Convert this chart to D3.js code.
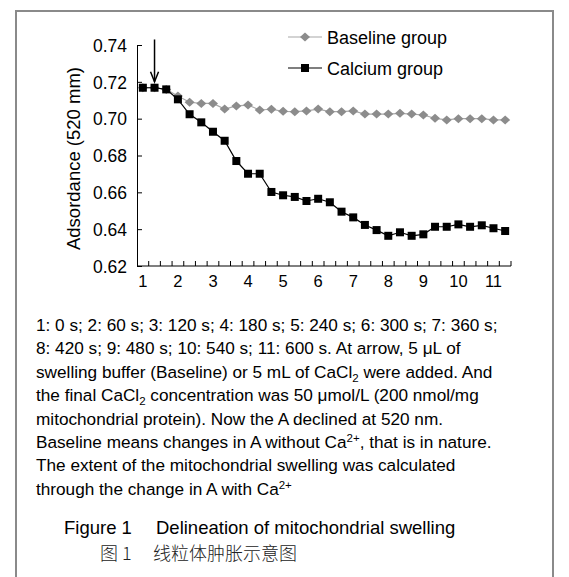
<!DOCTYPE html>
<html>
<head>
<meta charset="utf-8">
<script src="https://cdn.jsdelivr.net/npm/d3@7"></script>
<style>
  body { margin: 0; background: #fff; }
  svg text { font-family: "Liberation Sans", Arial, sans-serif; fill: #000; }
</style>
</head>
<body>
<div id="chart"></div>
<script>
// categories (one reading every ~20 s), labelled every third
var categories = [1, 2, 3, 4, 5, 6, 7, 8, 9, 10, 11, 12, 13, 14, 15, 16,
                  17, 18, 19, 20, 21, 22, 23, 24, 25, 26, 27, 28, 29, 30, 31, 32];
var tickLabels = ['1', '2', '3', '4', '5', '6', '7', '8', '9', '10', '11'];
var yTicks = [0.62, 0.64, 0.66, 0.68, 0.70, 0.72, 0.74];

var baseline = [0.7168, 0.7168, 0.7159, 0.7123, 0.7089, 0.7083, 0.7083, 0.7052,
                0.7069, 0.7074, 0.7047, 0.7051, 0.7040, 0.7038, 0.7042, 0.7052,
                0.7038, 0.7038, 0.7042, 0.7025, 0.7025, 0.7025, 0.7029, 0.7025,
                0.7020, 0.7002, 0.6993, 0.7000, 0.7000, 0.7000, 0.6993, 0.6993];
var calcium = [0.7168, 0.7168, 0.7159, 0.7105, 0.7024, 0.6980, 0.6929, 0.6880,
               0.6770, 0.6701, 0.6701, 0.6602, 0.6584, 0.6575, 0.6553, 0.6565,
               0.6546, 0.6495, 0.6464, 0.6423, 0.6395, 0.6364, 0.6383, 0.6364,
               0.6372, 0.6413, 0.6413, 0.6426, 0.6413, 0.6421, 0.6405, 0.6390];
var seriesNames = ['Baseline group', 'Calcium group'];
var arrowAt = 2; // category where the buffer was added

// caption lines: [text, 'sub' | 'sup' | undefined]
var caption = [
    [['1: 0 s; 2: 60 s; 3: 120 s; 4: 180 s; 5: 240 s; 6: 300 s; 7: 360 s;']],
    [['8: 420 s; 9: 480 s; 10: 540 s; 11: 600 s. At arrow, 5 \u03bcL of']],
    [['swelling buffer (Baseline) or 5 mL of CaCl'], ['2', 'sub'], [' were added. And']],
    [['the final CaCl'], ['2', 'sub'], [' concentration was 50 \u03bcmol/L (200 nmol/mg']],
    [['mitochondrial protein). Now the A declined at 520 nm.']],
    [['Baseline means changes in A without Ca'], ['2+', 'sup'], [', that is in nature.']],
    [['The extent of the mitochondrial swelling was calculated']],
    [['through the change in A with Ca'], ['2+', 'sup']]
];
var titleEn = ['Figure 1', 'Delineation of mitochondrial swelling'];
var titleZh = ['图 1', '线粒体肿胀示意图'];

var width = 569, height = 577;

var svg = d3.select('#chart').append('svg')
    .attr('width', width)
    .attr('height', height)
    .style('background', '#fff');

// outer frame
svg.append('rect')
    .attr('x', 16).attr('y', 11)
    .attr('width', 537).attr('height', 600)
    .attr('fill', 'none')
    .attr('stroke', '#8a8a8a')
    .attr('stroke-width', 2);

var x = d3.scaleBand().domain(categories).range([137, 511]);
var y = d3.scaleLinear().domain([0.62, 0.74]).range([266, 45]);
var cx = function(c) { return x(c) + x.bandwidth() / 2; };

// y axis
var yAxis = svg.append('g')
    .attr('transform', 'translate(137,0)')
    .call(d3.axisLeft(y).tickValues(yTicks).tickSize(-5).tickSizeOuter(0)
        .tickPadding(10).tickFormat(d3.format('.2f')));
yAxis.selectAll('text').style('font-size', '17.5px').attr('dy', '0.36em');
yAxis.select('.domain').attr('stroke', '#000');

// x axis: ticks between categories, labels every third
var xg = svg.append('g');
xg.append('line')
    .attr('x1', 137).attr('x2', 511)
    .attr('y1', y(0.62)).attr('y2', y(0.62))
    .attr('stroke', '#000');
xg.selectAll('.tk').data(categories.slice(1).concat(['end']))
    .enter().append('line')
    .attr('x1', function(c) { return c === 'end' ? x.range()[1] : x(c); })
    .attr('x2', function(c) { return c === 'end' ? x.range()[1] : x(c); })
    .attr('y1', y(0.62)).attr('y2', y(0.62) - 5)
    .attr('stroke', '#000');
xg.selectAll('.lb').data(tickLabels)
    .enter().append('text')
    .attr('x', function(d, i) { return cx(categories[i * 3]); })
    .attr('y', y(0.62) + 21)
    .attr('text-anchor', 'middle')
    .style('font-size', '16.5px')
    .text(function(d) { return d; });

// y title
svg.append('text')
    .attr('transform', 'translate(80,' + ((y(0.62) + y(0.74)) / 2 + 3) + ') rotate(-90)')
    .attr('text-anchor', 'middle')
    .style('font-size', '18.5px')
    .text('Adsordance (520 mm)');

var line = d3.line()
    .x(function(d, i) { return cx(categories[i]); })
    .y(function(d) { return y(d); });

// baseline group
svg.append('path').datum(baseline)
    .attr('d', line).attr('fill', 'none')
    .attr('stroke', '#a8a8a8').attr('stroke-width', 1.2);
svg.selectAll('.dia').data(baseline)
    .enter().append('path')
    .attr('transform', function(d, i) { return 'translate(' + cx(categories[i]) + ',' + y(d) + ')'; })
    .attr('d', 'M0,-4.5L5,0L0,4.5L-5,0Z')
    .attr('fill', '#8c8c8c');

// calcium group
svg.append('path').datum(calcium)
    .attr('d', line).attr('fill', 'none')
    .attr('stroke', '#000').attr('stroke-width', 1.2);
svg.selectAll('.sq').data(calcium)
    .enter().append('rect')
    .attr('x', function(d, i) { return cx(categories[i]) - 4; })
    .attr('y', function(d) { return y(d) - 4; })
    .attr('width', 8).attr('height', 8)
    .attr('fill', '#000');

// arrow
var ax = cx(arrowAt), tip = y(calcium[1]) - 6;
svg.append('line')
    .attr('x1', ax).attr('x2', ax)
    .attr('y1', y(0.743)).attr('y2', tip)
    .attr('stroke', '#000').attr('stroke-width', 1.5);
svg.append('path')
    .attr('d', 'M' + (ax - 4) + ',' + (tip - 10) + 'L' + ax + ',' + tip + 'L' + (ax + 4) + ',' + (tip - 10))
    .attr('fill', 'none').attr('stroke', '#000').attr('stroke-width', 1.5);

// legend
var legend = svg.append('g');
[0, 1].forEach(function(i) {
    var ly = 37 + i * 31;
    legend.append('line')
        .attr('x1', 288).attr('x2', 322).attr('y1', ly).attr('y2', ly)
        .attr('stroke', i === 0 ? '#a8a8a8' : '#000').attr('stroke-width', 1.2);
    if (i === 0) {
        legend.append('path')
            .attr('transform', 'translate(305,' + ly + ')')
            .attr('d', 'M0,-4.5L5,0L0,4.5L-5,0Z')
            .attr('fill', '#8c8c8c');
    } else {
        legend.append('rect')
            .attr('x', 301).attr('y', ly - 4).attr('width', 8).attr('height', 8)
            .attr('fill', '#000');
    }
    legend.append('text')
        .attr('x', 327).attr('y', ly + 6.5)
        .style('font-size', '18px')
        .text(seriesNames[i]);
});

// caption
var cap = svg.append('g');
caption.forEach(function(parts, li) {
    var t = cap.append('text')
        .attr('x', 36).attr('y', 331 + li * 23.4)
        .style('font-size', '17.2px');
    var shift = 0;
    parts.forEach(function(p) {
        var s = t.append('tspan').text(p[0]);
        var want = p[1] === 'sub' ? 4 : (p[1] === 'sup' ? -6 : 0);
        if (want !== shift) s.attr('dy', want - shift);
        shift = want;
        if (p[1]) s.style('font-size', '11.5px');
    });
});

// figure title
svg.append('text').attr('x', 64).attr('y', 534)
    .style('font-size', '18.5px').text(titleEn[0]);
svg.append('text').attr('x', 156).attr('y', 534)
    .style('font-size', '18.5px').text(titleEn[1]);
svg.append('text').attr('x', 100).attr('y', 560)
    .style('font-size', '18px')
    .style('font-family', '"Noto Sans CJK SC", sans-serif')
    .style('font-weight', 300)
    .style('fill', '#222')
    .text(titleZh[0]);
svg.append('text').attr('x', 153).attr('y', 560)
    .style('font-size', '18px')
    .style('font-family', '"Noto Sans CJK SC", sans-serif')
    .style('font-weight', 300)
    .style('fill', '#222')
    .text(titleZh[1]);
</script>
</body>
</html>
